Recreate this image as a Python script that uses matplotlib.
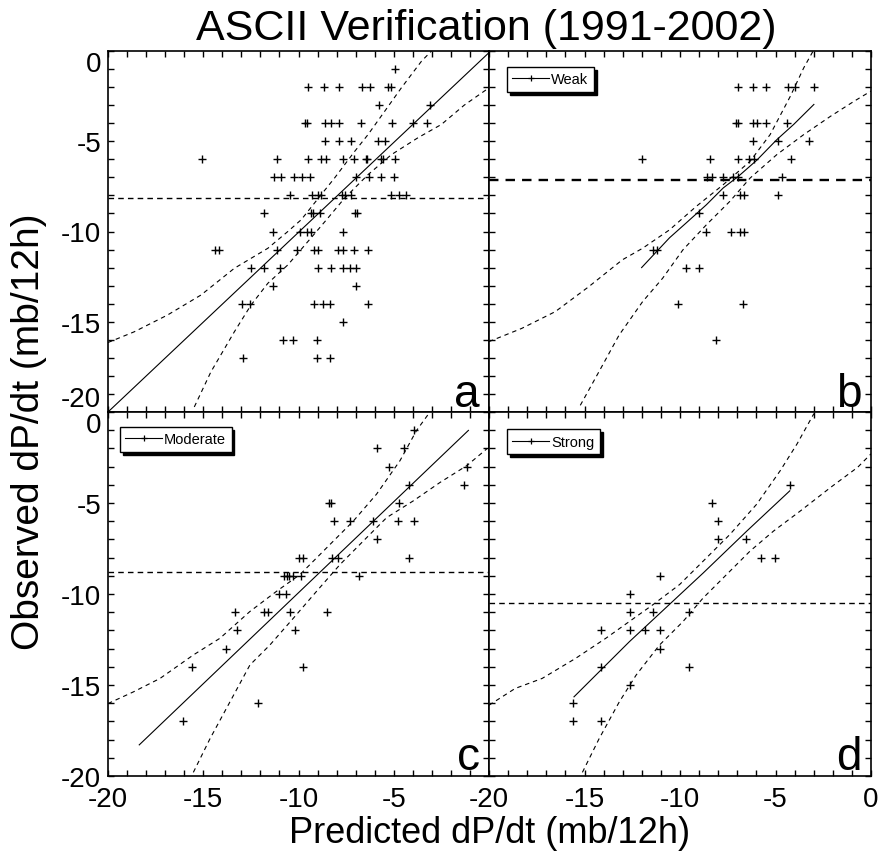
import matplotlib
matplotlib.use("Agg")
import matplotlib.pyplot as plt
from matplotlib import font_manager
from matplotlib.lines import Line2D
from matplotlib.ticker import MultipleLocator

# ---------------- data ----------------
# Panel a (all cases)
pred_a = [-4.95,
          -9.51, -8.67, -7.9, -6.65, -6.25, -5.3, -5.12,
          -5.79, -3.09,
          -9.65, -9.54, -8.6, -8.32, -7.9, -6.72, -5.1, -4.0, -3.28,
          -8.61, -7.9, -7.25, -5.81, -5.47,
          -15.07, -11.11, -9.51, -8.84, -8.58, -7.65, -7.11, -6.47, -6.4, -5.67, -5.56, -4.95,
          -11.26, -10.91, -10.25, -9.84, -9.4, -7.0, -6.28, -5.68, -5.0,
          -10.47, -9.3, -8.98, -8.81, -7.72, -7.56, -7.23, -5.12, -4.72, -4.37,
          -11.79, -9.37, -9.23, -8.86, -7.02, -6.91,
          -11.33, -9.9, -9.54, -9.37, -7.65,
          -14.4, -14.16, -11.11, -10.09, -9.21, -8.96, -7.91, -7.67, -7.11, -6.35,
          -12.49, -11.79, -10.96, -8.98, -8.32, -7.65, -7.32, -6.98,
          -11.35, -7.0,
          -12.96, -12.54, -9.21, -8.74, -8.33, -6.35,
          -7.65,
          -10.82, -10.28, -9.02,
          -12.89, -9.02, -8.33]
obs_a = ([-1] * 1 + [-2] * 7 + [-3] * 2 + [-4] * 9 + [-5] * 5 + [-6] * 12 + [-7] * 9 +
         [-8] * 10 + [-9] * 6 + [-10] * 5 + [-11] * 10 + [-12] * 8 + [-13] * 2 +
         [-14] * 6 + [-15] * 1 + [-16] * 3 + [-17] * 3)

# Panel b (weak)
pred_b = [-6.95, -6.19, -5.49, -4.36, -4.0, -2.99,
          -7.07, -6.98, -6.16, -5.98, -5.49, -4.4,
          -6.16, -4.89, -3.25,
          -12.01, -8.41, -6.95, -6.37, -6.1, -4.19,
          -8.57, -8.3, -7.74, -7.21, -6.95, -4.66,
          -7.77, -6.86, -6.65, -4.89,
          -9.02,
          -8.65, -7.35, -6.86, -6.63,
          -11.43, -11.2,
          -9.66, -9.01,
          -10.11, -6.68,
          -8.14]
obs_b = ([-2] * 6 + [-4] * 6 + [-5] * 3 + [-6] * 6 + [-7] * 6 + [-8] * 4 + [-9] * 1 +
         [-10] * 4 + [-11] * 2 + [-12] * 2 + [-14] * 2 + [-16] * 1)

# Panel c (moderate)
pred_c = [-3.92,
          -5.86, -4.44,
          -5.23, -1.14,
          -4.18, -1.31,
          -8.42, -8.31, -4.71,
          -8.12, -7.3, -6.11, -4.79, -3.92,
          -5.86,
          -9.96, -9.75, -8.22, -7.91, -4.18,
          -10.76, -10.62, -10.48, -10.31, -9.87, -6.84,
          -11.02, -10.67,
          -13.33, -11.79, -11.62, -10.45, -8.5,
          -13.23, -10.17,
          -13.79,
          -15.59, -9.75,
          -12.11,
          -16.08]
obs_c = ([-1] * 1 + [-2] * 2 + [-3] * 2 + [-4] * 2 + [-5] * 3 + [-6] * 5 + [-7] * 1 +
         [-8] * 5 + [-9] * 6 + [-10] * 2 + [-11] * 5 + [-12] * 2 + [-13] * 1 +
         [-14] * 2 + [-16] * 1 + [-17] * 1)

# Panel d (strong)
pred_d = [-4.25, -8.35, -8.03, -8.03, -6.56, -5.76, -5.04, -11.05, -12.62,
          -12.62, -11.41, -9.54,
          -14.11, -12.62, -11.85, -11.05,
          -11.05,
          -14.11, -9.54,
          -12.62,
          -15.61,
          -15.61, -14.11]
obs_d = ([-4, -5, -6, -7, -7, -8, -8, -9, -10] + [-11] * 3 + [-12] * 4 + [-13] +
         [-14] * 2 + [-15] + [-16] + [-17] * 2)

# horizontal mean of observed values, per panel
mean_obs = [-8.17, -7.13, -8.8, -10.52]

# regression lines
fit_a_x = [-20.0, 0.0]
fit_a_y = [-20.0, -0.09]
fit_b_x = [-12.01, -10.55, -9.67, -8.62, -7.74, -6.95, -5.98, -4.93, -4.05, -2.99]
fit_b_y = [-12.0, -10.35, -9.52, -8.52, -7.59, -6.95, -6.05, -4.91, -4.07, -2.96]
fit_c_x = [-18.36, -1.08]
fit_c_y = [-18.29, -1.01]
fit_d_x = [-15.55, -12.65, -8.79, -6.5, -4.25]
fit_d_y = [-15.65, -12.62, -8.85, -6.54, -4.33]

# confidence bands
up_a_x = [-20.0, -18.63, -16.88, -15.12, -13.37, -11.61, -10.56, -9.86, -8.81, -8.11, -7.05, -6.35, -5.47, -4.6, -3.54, -3.02]
up_a_y = [-16.15, -15.56, -14.63, -13.52, -12.04, -10.93, -10.0, -9.35, -7.96, -7.04, -5.56, -4.63, -3.33, -2.04, -0.56, 0.0]
lo_a_x = [-15.47, -14.6, -13.37, -12.49, -11.61, -10.56, -9.51, -8.46, -7.58, -6.35, -5.12, -3.72, -2.5, -1.3, 0.0]
lo_a_y = [-19.72, -17.78, -15.56, -14.07, -12.87, -11.85, -10.56, -9.26, -8.15, -6.85, -5.74, -4.8, -4.07, -3.0, -2.04]

up_b_x = [-20.0, -18.29, -16.53, -14.78, -13.02, -11.96, -10.55, -9.15, -7.74, -6.33, -5.28, -4.22, -3.52, -3.03]
up_b_y = [-16.1, -15.37, -14.44, -13.06, -11.57, -10.93, -9.91, -8.61, -7.41, -6.11, -4.63, -2.5, -0.93, 0.0]
lo_b_x = [-15.22, -14.25, -13.19, -11.96, -10.91, -9.85, -8.62, -7.39, -6.33, -4.93, -3.52, -2.11, -0.88, 0.0]
lo_b_y = [-19.63, -17.78, -15.74, -13.89, -12.59, -11.02, -9.63, -8.33, -7.04, -5.74, -4.63, -3.61, -2.78, -2.22]

up_c_x = [-20.0, -18.67, -17.27, -15.52, -14.12, -12.55, -11.15, -9.92, -8.52, -7.12, -5.9, -4.67, -3.8, -3.1]
up_c_y = [-16.02, -15.38, -14.64, -13.35, -12.43, -10.96, -9.85, -8.93, -7.46, -5.99, -4.51, -2.67, -1.01, 0.0]
lo_c_x = [-15.52, -14.65, -13.6, -12.55, -11.5, -10.27, -9.05, -7.82, -6.6, -5.37, -3.97, -2.57, -1.17, -0.12]
lo_c_y = [-19.8, -17.96, -15.93, -13.9, -12.8, -11.33, -9.85, -8.38, -7.09, -5.8, -4.88, -3.87, -2.95, -2.03]

up_d_x = [-20.0, -18.63, -17.22, -15.47, -13.88, -12.65, -11.42, -10.02, -8.61, -7.38, -5.98, -4.75, -3.87, -2.99]
up_d_y = [-16.11, -15.19, -14.64, -13.54, -12.43, -11.51, -10.59, -9.48, -8.01, -6.72, -5.06, -3.22, -1.75, -0.09]
lo_d_x = [-15.11, -14.24, -13.18, -12.3, -11.07, -9.84, -8.79, -7.56, -6.33, -5.1, -3.69, -2.11, -0.7, 0.0]
lo_d_y = [-19.8, -17.96, -15.93, -14.46, -12.8, -11.51, -10.22, -8.93, -7.64, -6.54, -5.43, -4.14, -3.04, -2.3]

panel_letters = ['a', 'b', 'c', 'd']
legend_labels = [None, 'Weak', 'Moderate', 'Strong']
tick_values = [-20, -15, -10, -5, 0]
tick_labels = ['-20', '-15', '-10', '-5', '0']

title = 'ASCII Verification (1991-2002)'
xlabel = 'Predicted dP/dt (mb/12h)'
ylabel = 'Observed dP/dt (mb/12h)'

# ---------------- fonts ----------------
names = {f.name for f in font_manager.fontManager.ttflist}
BASE = 'Liberation Sans' if 'Liberation Sans' in names else 'DejaVu Sans'
plt.rcParams['font.family'] = [BASE, 'DejaVu Sans']
plt.rcParams['axes.unicode_minus'] = False

# ---------------- figure ----------------
W, H = 880, 853
fig = plt.figure(figsize=(W / 100, H / 100), dpi=100)

def rect(x0, y0, x1, y1):
    return [x0 / W, 1 - y1 / H, (x1 - x0) / W, (y1 - y0) / H]

axes = [fig.add_axes(rect(108, 52, 489, 413)),
        fig.add_axes(rect(489, 52, 871, 413)),
        fig.add_axes(rect(108, 413, 489, 777)),
        fig.add_axes(rect(489, 413, 871, 777))]

preds = [pred_a, pred_b, pred_c, pred_d]
obss = [obs_a, obs_b, obs_c, obs_d]
fits = [(fit_a_x, fit_a_y), (fit_b_x, fit_b_y), (fit_c_x, fit_c_y), (fit_d_x, fit_d_y)]
ups = [(up_a_x, up_a_y), (up_b_x, up_b_y), (up_c_x, up_c_y), (up_d_x, up_d_y)]
los = [(lo_a_x, lo_a_y), (lo_b_x, lo_b_y), (lo_c_x, lo_c_y), (lo_d_x, lo_d_y)]
legend_pos = [None, (0.047, 0.956), (0.031, 0.959), (0.047, 0.953)]
mean_lw = [1.0, 1.7, 1.0, 1.0]

band_dash = (0, (4, 3.5))
for i, ax in enumerate(axes):
    ax.set_xlim(-20, 0)
    ax.set_ylim(-20, 0)
    ax.plot(preds[i], obss[i], ls='none', marker='+', color='k', ms=5.5, mew=1.0)
    ax.plot(*fits[i], color='k', lw=0.8)
    ax.plot(*ups[i], color='k', lw=0.8, ls=band_dash)
    ax.plot(*los[i], color='k', lw=0.8, ls=band_dash)
    ax.axhline(mean_obs[i], color='k', lw=mean_lw[i], ls=(0, (4, 3)))
    for s in ax.spines.values():
        s.set_linewidth(1.2)
    ax.set_xticks(tick_values)
    ax.set_yticks(tick_values)
    ax.xaxis.set_minor_locator(MultipleLocator(1))
    ax.yaxis.set_minor_locator(MultipleLocator(1))
    ax.tick_params(which='both', direction='in', top=True, right=True,
                   width=1, labelsize=20, pad=5)
    ax.tick_params(axis='x', pad=7)
    ax.tick_params(which='major', length=4.5)
    ax.tick_params(which='minor', length=4)
    ax.text(0.976, 0.018, panel_letters[i], transform=ax.transAxes,
            ha='right', va='baseline', fontsize=33)
    if legend_labels[i]:
        h = [Line2D([], [], color='k', lw=0.8, marker='+', ms=5, mew=0.9)]
        leg = ax.legend(h, [legend_labels[i]], loc='upper left',
                        bbox_to_anchor=legend_pos[i], borderaxespad=0,
                        frameon=True, fancybox=False,
                        shadow={'color': 'black', 'alpha': 1},
                        edgecolor='k', framealpha=1, fontsize=10.5,
                        handlelength=2.5, handletextpad=0.15,
                        borderpad=0.38, numpoints=1)
        leg.get_frame().set_linewidth(1.0)

ax_a, ax_b, ax_c, ax_d = axes
for ax in (ax_a, ax_b):
    ax.tick_params(labelbottom=False)
for ax in (ax_b, ax_d):
    ax.tick_params(labelleft=False)

ax_a.set_yticklabels(tick_labels)
ax_c.set_yticklabels(tick_labels)
ax_c.set_xticklabels(tick_labels[:-1] + [''])
ax_d.set_xticklabels(tick_labels)

yl_a = ax_a.get_yticklabels()
yl_a[0].set_va('bottom')
yl_a[-1].set_va('top')
yl_c = ax_c.get_yticklabels()
yl_c[-1].set_va('top')

fig.text(486 / W, 1 - 40 / H, title, ha='center', va='baseline', fontsize=31)
fig.text(490 / W, 1 - 834 / H, xlabel, ha='center', va='center', fontsize=26)
fig.text(29 / W, 1 - 432 / H, ylabel, ha='center', va='center',
         rotation=90, fontsize=28)

fig.savefig('out.png', dpi=100)
